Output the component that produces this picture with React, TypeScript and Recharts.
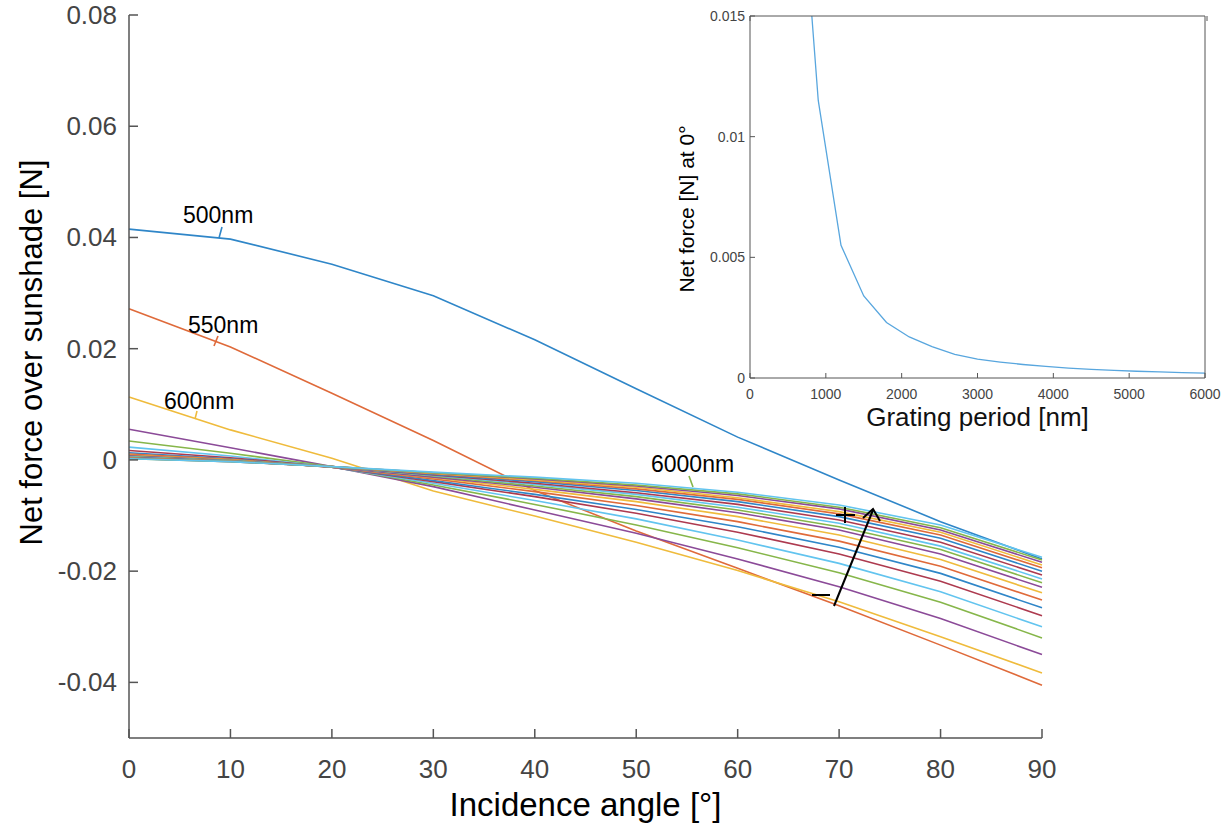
import { Label, Line, LineChart, XAxis, YAxis } from "recharts";

// incidence angle samples [deg]
const angles = [0, 10, 20, 30, 40, 50, 60, 70, 80, 90];

// net force over sunshade [N], one array per grating period (MATLAB colour order)
const line01 = [0.0415, 0.0397, 0.0352, 0.0295, 0.0216, 0.0128, 0.0041, -0.0036, -0.0111, -0.0178];
const line02 = [0.0272, 0.0203, 0.012, 0.0035, -0.0055, -0.0128, -0.0195, -0.0262, -0.0333, -0.0405];
const line03 = [0.0113, 0.0054, 0.0003, -0.0056, -0.0101, -0.0148, -0.0199, -0.0255, -0.0318, -0.0383];
const line04 = [0.0055, 0.0022, -0.0012, -0.0048, -0.009, -0.0132, -0.0178, -0.0228, -0.0285, -0.035];
const line05 = [0.0034, 0.0012, -0.0012, -0.0045, -0.008, -0.0117, -0.0158, -0.0203, -0.0256, -0.032];
const line06 = [0.0023, 0.0007, -0.0013, -0.0042, -0.0073, -0.0106, -0.0144, -0.0186, -0.0237, -0.03];
const line07 = [0.0017, 0.0004, -0.0013, -0.0039, -0.0066, -0.0096, -0.013, -0.0169, -0.0218, -0.028];
const line08 = [0.0013, 0.0002, -0.0013, -0.0037, -0.0062, -0.0089, -0.012, -0.0157, -0.0204, -0.0266];
const line09 = [0.00105, 0.0001, -0.0013, -0.0034, -0.0057, -0.0082, -0.0111, -0.0146, -0.0191, -0.0252];
const line10 = [0.00085, 0.0, -0.0013, -0.0032, -0.0053, -0.0075, -0.0102, -0.0135, -0.0179, -0.0239];
const line11 = [0.00072, -0.00005, -0.0013, -0.0031, -0.0049, -0.007, -0.0095, -0.0126, -0.0169, -0.0229];
const line12 = [0.0006, -0.0001, -0.0012, -0.0029, -0.0047, -0.0066, -0.009, -0.012, -0.0161, -0.0221];
const line13 = [0.0005, -0.00015, -0.0012, -0.0028, -0.0044, -0.0062, -0.0085, -0.0114, -0.0155, -0.0214];
const line14 = [0.00043, -0.0002, -0.0012, -0.0027, -0.0042, -0.0059, -0.008, -0.0108, -0.0148, -0.0207];
const line15 = [0.00037, -0.0002, -0.0012, -0.0026, -0.0039, -0.0055, -0.0075, -0.0102, -0.0141, -0.02];
const line16 = [0.00032, -0.00025, -0.0012, -0.0025, -0.0037, -0.0052, -0.0071, -0.0097, -0.0135, -0.0194];
const line17 = [0.00028, -0.00025, -0.0012, -0.0024, -0.0036, -0.0049, -0.0068, -0.0093, -0.013, -0.0189];
const line18 = [0.00025, -0.0003, -0.0012, -0.0023, -0.0034, -0.0047, -0.0064, -0.0088, -0.0126, -0.0184];
const line19 = [0.00022, -0.0003, -0.0012, -0.0023, -0.0033, -0.0045, -0.0061, -0.0085, -0.0122, -0.018];
const line20 = [0.0002, -0.0003, -0.0012, -0.0022, -0.0031, -0.0042, -0.0058, -0.0081, -0.0117, -0.0175];

const curves = [
  line01, line02, line03, line04, line05, line06, line07, line08, line09, line10,
  line11, line12, line13, line14, line15, line16, line17, line18, line19, line20,
];

const lineColors = ["#2f86c8", "#df6a3a", "#efbb3c", "#8b4a98", "#86b64a", "#62c4ef", "#ad3a4f"];

const angleTicks = [0, 10, 20, 30, 40, 50, 60, 70, 80, 90];
const forceTicks = [-0.04, -0.02, 0, 0.02, 0.04, 0.06, 0.08];

// inset: net force at 0 deg vs grating period
const gratingPeriod = [600, 900, 1200, 1500, 1800, 2100, 2400, 2700, 3000, 3300, 3600, 3900, 4200, 4500, 4800, 5100, 5400, 5700, 6000];
const forceAtZero = [0.0239, 0.0115, 0.0055, 0.0034, 0.0023, 0.0017, 0.0013, 0.00098, 0.00078, 0.00066, 0.00056, 0.00048, 0.00041, 0.00036, 0.00032, 0.00028, 0.00025, 0.00022, 0.0002];
const periodTicks = [0, 1000, 2000, 3000, 4000, 5000, 6000];
const insetForceTicks = [0, 0.005, 0.01, 0.015];

const mainRows = angles.map((angle, i) => {
  const row: Record<string, number> = { angle };
  curves.forEach((c, k) => {
    row[`s${k}`] = c[i];
  });
  return row;
});

const insetRows = gratingPeriod.map((period, i) => ({ period, force: forceAtZero[i] }));

const FONT = "'Liberation Sans', Arial, Helvetica, sans-serif";
const AXIS = "#555555";
const TICK_TEXT = "#444444";

const fmt = (v: number) => (v === 0 ? "0" : String(Number(v.toFixed(3))));

// tickSize/tickMargin are 0, so x/y handed in is the axis line itself
function MainXTick({ x, y, payload }: any) {
  return (
    <g>
      <line x1={x} y1={y} x2={x} y2={y - 9} stroke={AXIS} strokeWidth={1.5} />
      <text x={x} y={y + 40} textAnchor="middle" fontSize={26} fill={TICK_TEXT} fontFamily={FONT}>
        {payload.value}
      </text>
    </g>
  );
}

function MainYTick({ x, y, payload }: any) {
  return (
    <g>
      <line x1={x} y1={y} x2={x + 9} y2={y} stroke={AXIS} strokeWidth={1.5} />
      <text x={x - 12} y={y + 9} textAnchor="end" fontSize={26} fill={TICK_TEXT} fontFamily={FONT}>
        {fmt(payload.value)}
      </text>
    </g>
  );
}

function InsetXTick({ x, y, payload }: any) {
  return (
    <g>
      <line x1={x} y1={y} x2={x} y2={y - 5} stroke={AXIS} strokeWidth={1} />
      <text x={x} y={y + 21} textAnchor="middle" fontSize={14} fill={TICK_TEXT} fontFamily={FONT}>
        {payload.value}
      </text>
    </g>
  );
}

function InsetYTick({ x, y, payload }: any) {
  return (
    <g>
      <line x1={x} y1={y} x2={x + 5} y2={y} stroke={AXIS} strokeWidth={1} />
      <text x={x - 5} y={y + 5} textAnchor="end" fontSize={14} fill={TICK_TEXT} fontFamily={FONT}>
        {fmt(payload.value)}
      </text>
    </g>
  );
}

function InsetTopTick({ x, y }: any) {
  return <line x1={x} y1={y} x2={x} y2={y + 5} stroke={AXIS} strokeWidth={1} />;
}

function InsetRightTick({ x, y }: any) {
  return <line x1={x} y1={y} x2={x - 5} y2={y} stroke={AXIS} strokeWidth={1} />;
}

function rotatedTitle(text: string, dxFromLeft: number, dy: number, size: number) {
  return ({ viewBox }: any) => {
    const cx = viewBox.x + dxFromLeft;
    const cy = viewBox.y + viewBox.height / 2 + dy;
    return (
      <text
        x={cx}
        y={cy}
        transform={`rotate(-90 ${cx} ${cy})`}
        textAnchor="middle"
        dominantBaseline="central"
        fontSize={size}
        fontFamily={FONT}
        fill="#000"
      >
        {text}
      </text>
    );
  };
}

export default function App() {
  return (
    <div style={{ position: "absolute", left: 0, top: 0, width: 1223, height: 832, background: "#fff", fontFamily: FONT }}>
      <LineChart width={1223} height={832} data={mainRows} margin={{ top: 15, right: 181, left: 0, bottom: 0 }}>
        <XAxis
          dataKey="angle"
          type="number"
          domain={[0, 90]}
          ticks={angleTicks}
          height={94}
          tickSize={0}
          tickMargin={0}
          tick={<MainXTick />}
          axisLine={{ stroke: AXIS, strokeWidth: 1.5 }}
          tickLine={false}
        >
          <Label value="Incidence angle [°]" position="insideBottom" offset={16} fontSize={33} fill="#000" fontFamily={FONT} />
        </XAxis>
        <YAxis
          type="number"
          domain={[-0.05, 0.08]}
          ticks={forceTicks}
          width={129}
          tickSize={0}
          tickMargin={0}
          tick={<MainYTick />}
          axisLine={{ stroke: AXIS, strokeWidth: 1.5 }}
          tickLine={false}
        >
          <Label content={rotatedTitle("Net force over sunshade [N]", 31, -24, 31)} />
        </YAxis>
        {curves.map((_, k) => (
          <Line
            key={k}
            dataKey={`s${k}`}
            type="linear"
            stroke={lineColors[k % lineColors.length]}
            strokeWidth={1.6}
            dot={false}
            activeDot={false}
            isAnimationActive={false}
          />
        ))}
      </LineChart>

      <div style={{ position: "absolute", left: 650, top: 0 }}>
        <LineChart width={573} height={450} data={insetRows} margin={{ top: 10, right: 12, left: 0, bottom: 0 }}>
          <XAxis
            dataKey="period"
            type="number"
            domain={[0, 6000]}
            ticks={periodTicks}
            height={72}
            tickSize={0}
            tickMargin={0}
            tick={<InsetXTick />}
            axisLine={{ stroke: AXIS, strokeWidth: 1 }}
            tickLine={false}
          >
            <Label value="Grating period [nm]" position="insideBottom" offset={24} fontSize={26} fill="#111" fontFamily={FONT} />
          </XAxis>
          <XAxis
            xAxisId="top"
            orientation="top"
            type="number"
            domain={[0, 6000]}
            ticks={periodTicks}
            height={6}
            tickSize={0}
            tickMargin={0}
            tick={<InsetTopTick />}
            axisLine={{ stroke: AXIS, strokeWidth: 1 }}
            tickLine={false}
          />
          <YAxis
            type="number"
            domain={[0, 0.015]}
            allowDataOverflow
            ticks={insetForceTicks}
            width={100}
            tickSize={0}
            tickMargin={0}
            tick={<InsetYTick />}
            axisLine={{ stroke: AXIS, strokeWidth: 1 }}
            tickLine={false}
          >
            <Label content={rotatedTitle("Net force [N] at 0°", 36, 12, 21)} />
          </YAxis>
          <YAxis
            yAxisId="right"
            orientation="right"
            type="number"
            domain={[0, 0.015]}
            ticks={insetForceTicks}
            width={6}
            tickSize={0}
            tickMargin={0}
            tick={<InsetRightTick />}
            axisLine={{ stroke: AXIS, strokeWidth: 1 }}
            tickLine={false}
          />
          <Line
            dataKey="force"
            type="linear"
            stroke="#58a6de"
            strokeWidth={1.3}
            dot={false}
            activeDot={false}
            isAnimationActive={false}
          />
        </LineChart>
      </div>

      <svg width={1223} height={832} style={{ position: "absolute", left: 0, top: 0, pointerEvents: "none" }}>
        <g fontFamily={FONT} fontSize={23} fill="#000">
          <text x={183} y={223}>500nm</text>
          <text x={188} y={333}>550nm</text>
          <text x={164} y={409}>600nm</text>
          <text x={651} y={472}>6000nm</text>
        </g>
        <line x1={222} y1={227} x2={219} y2={238} stroke="#2f86c8" strokeWidth={1.6} />
        <line x1={218} y1={336} x2={214} y2={346} stroke="#df6a3a" strokeWidth={1.6} />
        <line x1={197} y1={411} x2={195} y2={419} stroke="#efbb3c" strokeWidth={1.6} />
        <line x1={689} y1={476} x2={693} y2={487} stroke="#86b64a" strokeWidth={1.6} />
        <g stroke="#000" strokeWidth={2} fill="none">
          <line x1={836} y1={515} x2={855} y2={515} />
          <line x1={845} y1={507} x2={845} y2={523} />
          <line x1={812} y1={595} x2={830} y2={595} />
          <line x1={834} y1={606} x2={873} y2={510} />
          <polyline points="863,518 873,509 880,521" />
        </g>
      </svg>
    </div>
  );
}
